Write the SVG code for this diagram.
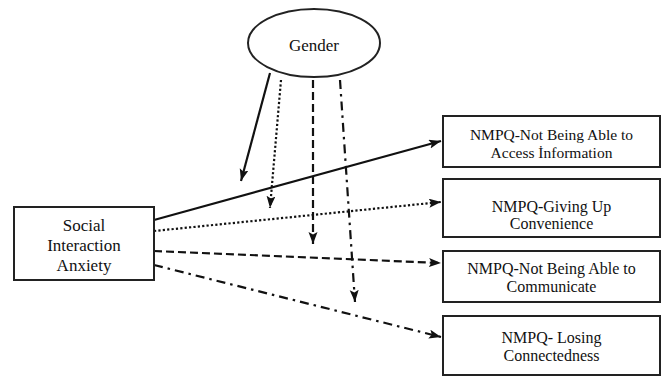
<svg xmlns="http://www.w3.org/2000/svg" width="662" height="377" viewBox="0 0 662 377">
<style>
.box{fill:#fff;stroke:#222;stroke-width:2}
.t{font-family:"Liberation Serif","Times New Roman",serif;fill:#111;text-anchor:middle}
.c{fill:none;stroke:#111;stroke-width:2.2}
.dot{stroke-dasharray:2.2 2.2}
.dash{stroke-dasharray:8 4}
.dd{stroke-dasharray:9 5 2.5 5}
</style>
<defs>
<marker id="ah" markerUnits="userSpaceOnUse" markerWidth="13" markerHeight="10" refX="12" refY="4.5" orient="auto">
<path d="M0,0 L12,4.5 L0,9 L2.5,4.5 z" fill="#111"/>
</marker>
</defs>
<rect width="662" height="377" fill="#fff"/>
<g id="connectors">
<line class="c" x1="154" y1="220" x2="441" y2="141" marker-end="url(#ah)"/>
<line class="c dot" x1="154" y1="231" x2="441" y2="202" marker-end="url(#ah)"/>
<line class="c dash" x1="154" y1="251" x2="441" y2="263" marker-end="url(#ah)"/>
<line class="c dd" x1="154" y1="265" x2="441" y2="337" marker-end="url(#ah)"/>
<line class="c" x1="270" y1="73" x2="241" y2="181" marker-end="url(#ah)"/>
<line class="c dot" x1="281" y1="80" x2="270" y2="208" marker-end="url(#ah)"/>
<line class="c dash" x1="313" y1="80" x2="313" y2="244" marker-end="url(#ah)"/>
<line class="c dd" x1="340" y1="80" x2="355" y2="302" marker-end="url(#ah)"/>
</g>
<g id="gender">
<ellipse class="box" cx="314" cy="43" rx="66" ry="34"/>
<text class="t" x="314" y="51" font-size="17">Gender</text>
</g>
<g id="sia">
<rect class="box" x="14" y="207" width="140" height="73"/>
<text class="t" font-size="17"><tspan x="84" y="231">Social</tspan><tspan x="84" y="251">Interaction</tspan><tspan x="84" y="271">Anxiety</tspan></text>
</g>
<g id="n1">
<rect class="box" x="443" y="116" width="217" height="51"/>
<text class="t" font-size="15.5"><tspan x="551.5" y="140">NMPQ-Not Being Able to</tspan><tspan x="551.5" y="158">Access İnformation</tspan></text>
</g>
<g id="n2">
<rect class="box" x="443" y="179" width="217" height="58"/>
<text class="t" font-size="16"><tspan x="551.5" y="212">NMPQ-Giving Up</tspan><tspan x="551.5" y="229">Convenience</tspan></text>
</g>
<g id="n3">
<rect class="box" x="443" y="251" width="217" height="51"/>
<text class="t" font-size="16"><tspan x="551.5" y="274">NMPQ-Not Being Able to</tspan><tspan x="551.5" y="292">Communicate</tspan></text>
</g>
<g id="n4">
<rect class="box" x="443" y="316" width="217" height="59"/>
<text class="t" font-size="16"><tspan x="551.5" y="343">NMPQ- Losing</tspan><tspan x="551.5" y="361">Connectedness</tspan></text>
</g>
</svg>
